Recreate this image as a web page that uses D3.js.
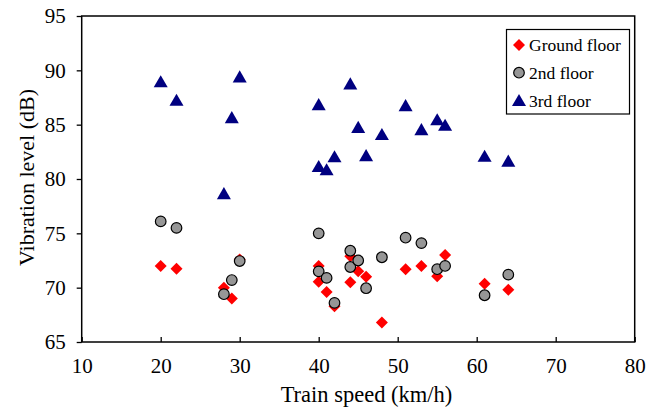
<!DOCTYPE html>
<html><head><meta charset="utf-8">
<script src="https://cdn.jsdelivr.net/npm/d3@7/dist/d3.min.js"></script>
<style>body{margin:0;background:#fff}svg{display:block}svg text{font-family:"Liberation Serif",serif !important}</style>
</head><body>
<script>
const xTicks = [10,20,30,40,50,60,70,80];
const yTicks = [65,70,75,80,85,90,95];
const groundX = [20,22,28,29,30,40,40,41,42,44,44,45,46,48,51,53,55,56,61,64];
const groundY = [72.0,71.75,70.0,69.0,72.6,72.0,70.55,69.6,68.3,72.9,70.5,71.5,71.0,66.8,71.7,72.0,71.05,73.0,70.35,69.8];
const secondX = [20,22,28,29,30,40,40,41,42,44,44,45,46,48,51,53,55,56,61,64];
const secondY = [76.1,75.5,69.4,70.7,72.45,75.0,71.5,70.9,68.6,73.4,71.9,72.5,69.95,72.8,74.6,74.1,71.7,72.0,69.3,71.2];
const thirdX = [20,22,28,29,30,40,40,41,42,44,45,46,48,51,53,55,56,61,64];
const thirdY = [88.9,87.2,78.6,85.6,89.35,86.8,81.1,80.8,82.0,88.7,84.7,82.1,84.05,86.7,84.5,85.4,84.9,82.05,81.6];
const seriesNames = ["Ground floor","2nd floor","3rd floor"];

const FONT = "Liberation Serif";
const W=649,H=412, L=81.7, R=634.7, T=16, B=342;
const svg=d3.select("body").append("svg").attr("width",W).attr("height",H).style("font-family",FONT);
const x=d3.scaleLinear().domain([10,80]).range([L,R]);
const y=d3.scaleLinear().domain([65,95]).range([B,T]);

const gx=svg.append("g").attr("transform",`translate(0,${B})`)
  .call(d3.axisBottom(x).tickValues(xTicks).tickSize(-5).tickPadding(16).tickFormat(d3.format("d")));
gx.attr("font-family",null).style("font-family",FONT);
gx.select(".domain").remove();
gx.selectAll("line").attr("stroke","#000").attr("stroke-width",1.3);
gx.selectAll("text").attr("font-size",21).attr("fill","#000").style("font-family",FONT);
const gy=svg.append("g").attr("transform",`translate(${L},0)`)
  .call(d3.axisLeft(y).tickValues(yTicks).tickSize(5).tickPadding(11).tickFormat(d3.format("d")));
gy.attr("font-family",null).style("font-family",FONT);
gy.select(".domain").remove();
gy.selectAll("line").attr("stroke","#000").attr("stroke-width",1.3);
gy.selectAll("text").attr("font-size",21).attr("fill","#000").style("font-family",FONT);

svg.append("rect").attr("x",L).attr("y",T).attr("width",R-L).attr("height",B-T)
  .attr("fill","none").attr("stroke","#000").attr("stroke-width",1.5);

const diamond=d3.symbol().type(d3.symbolSquare).size(72);
const tri=d3.symbol().type(d3.symbolTriangle).size(85);

svg.append("g").selectAll("path").data(d3.zip(groundX,groundY)).join("path")
  .attr("d",diamond).attr("transform",d=>`translate(${x(d[0])},${y(d[1])}) rotate(45)`).attr("fill","#ff0000");
svg.append("g").selectAll("circle").data(d3.zip(secondX,secondY)).join("circle")
  .attr("cx",d=>x(d[0])).attr("cy",d=>y(d[1])).attr("r",5.3)
  .attr("fill","#969696").attr("stroke","#000").attr("stroke-width",1.2);
svg.append("g").selectAll("path").data(d3.zip(thirdX,thirdY)).join("path")
  .attr("d",tri).attr("transform",d=>`translate(${x(d[0])},${y(d[1])+1})`).attr("fill","#000080");

const lg=svg.append("g");
lg.append("rect").attr("x",506.5).attr("y",29.5).attr("width",123).attr("height",84.5)
  .attr("fill","#fff").attr("stroke","#000").attr("stroke-width",1.2);
const ly=[45,72.7,101];
lg.append("path").attr("d",diamond).attr("transform",`translate(519,${ly[0]}) rotate(45)`).attr("fill","#ff0000");
lg.append("circle").attr("cx",519).attr("cy",ly[1]).attr("r",5.3).attr("fill","#969696").attr("stroke","#000").attr("stroke-width",1.2);
lg.append("path").attr("d",tri).attr("transform",`translate(519,${ly[2]+1})`).attr("fill","#000080");
seriesNames.forEach((n,i)=>lg.append("text").attr("x",529).attr("y",ly[i]+6).attr("font-size",17.5).style("font-family",FONT).text(n));

svg.append("text").attr("x",366.5).attr("y",402).attr("text-anchor","middle").attr("font-size",22.5).style("font-family",FONT).text("Train speed (km/h)");
svg.append("text").attr("transform",`translate(34,177.5) rotate(-90)`).attr("text-anchor","middle").attr("font-size",22).style("font-family",FONT).text("Vibration level (dB)");
</script>
</body></html>
